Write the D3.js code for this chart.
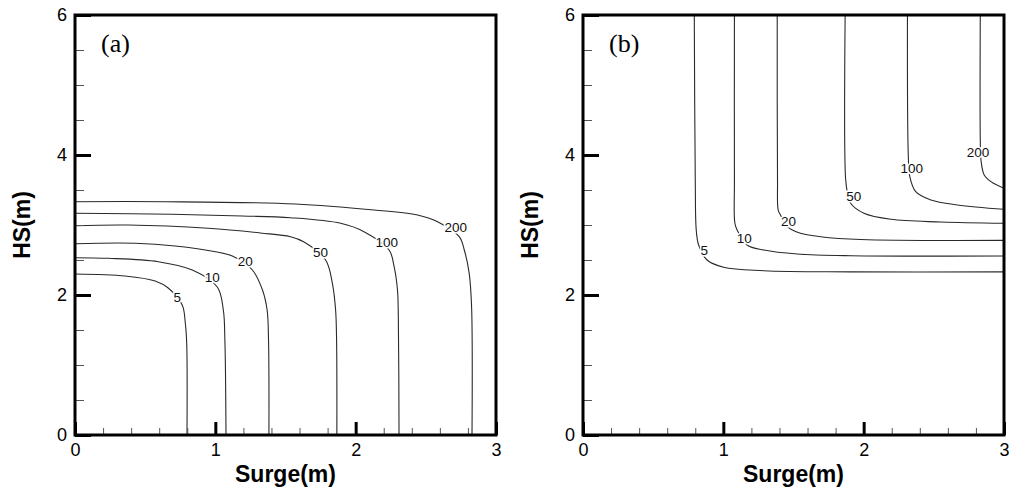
<!DOCTYPE html>
<html>
<head>
<meta charset="utf-8">
<script src="https://cdn.jsdelivr.net/npm/d3@7"></script>
<style>
body { margin: 0; background: #fff; }
text { font-family: Arial, "Liberation Sans", sans-serif; }
</style>
</head>
<body>
<div id="chart"></div>
<script>
var svgWidth = 1010;
var svgHeight = 494;

// contour levels (return period) and tick values
var levels = ["5", "10", "20", "50", "100", "200"];
var surgeTicks = [0, 1, 2, 3];
var hsTicks = [0, 2, 4, 6];
var surgeMinor = [0.2, 0.4, 0.6, 0.8, 1.2, 1.4, 1.6, 1.8, 2.2, 2.4, 2.6, 2.8];
var hsMinor = [0.5, 1, 1.5, 2.5, 3, 3.5, 4.5, 5, 5.5];

// panel (a) contours, [surge, HS]
var a5 = [[0, 2.30], [0.357, 2.271], [0.571, 2.20], [0.664, 2.10], [0.764, 1.857], [0.786, 1.60], [0.796, 1.314], [0.798, 0]];
var a10 = [[0, 2.533], [0.236, 2.524], [0.593, 2.476], [0.836, 2.357], [1.014, 2.114], [1.057, 1.786], [1.068, 1.357], [1.076, 0]];
var a20 = [[0, 2.733], [0.429, 2.739], [0.714, 2.70], [1.0, 2.619], [1.121, 2.557], [1.264, 2.357], [1.336, 2.071], [1.369, 1.786], [1.379, 1.357], [1.382, 0]];
var a50 = [[0, 2.99], [0.379, 3.0], [0.95, 2.953], [1.321, 2.886], [1.536, 2.833], [1.629, 2.761], [1.786, 2.50], [1.834, 2.167], [1.857, 1.786], [1.864, 1.357], [1.866, 0]];
var a100 = [[0, 3.167], [0.691, 3.153], [1.191, 3.129], [1.536, 3.104], [1.893, 3.024], [2.059, 2.904], [2.238, 2.643], [2.274, 2.404], [2.298, 2.071], [2.304, 1.69], [2.309, 0]];
var a200 = [[0, 3.333], [0.643, 3.333], [1.571, 3.30], [2.131, 3.214], [2.441, 3.143], [2.583, 3.047], [2.738, 2.833], [2.774, 2.643], [2.809, 2.31], [2.826, 1.833], [2.829, 0]];
var labelsA = [[0.729, 1.971], [0.979, 2.257], [1.214, 2.486], [1.75, 2.614], [2.221, 2.757], [2.714, 2.971]];

// panel (b) contours, [surge, HS]
var b5 = [[0.793, 6], [0.80, 3.643], [0.807, 2.929], [0.824, 2.714], [0.884, 2.50], [1.002, 2.396], [1.288, 2.347], [1.907, 2.33], [3.0, 2.33]];
var b10 = [[1.079, 6], [1.079, 3.643], [1.082, 3.029], [1.098, 2.929], [1.169, 2.714], [1.288, 2.643], [1.526, 2.586], [1.907, 2.561], [3.0, 2.557]];
var b20 = [[1.384, 6], [1.386, 3.643], [1.391, 3.214], [1.407, 3.143], [1.455, 2.976], [1.55, 2.881], [1.693, 2.833], [1.979, 2.793], [3.0, 2.781]];
var b50 = [[1.868, 6], [1.871, 3.667], [1.885, 3.45], [1.907, 3.31], [2.002, 3.167], [2.193, 3.081], [2.55, 3.043], [3.0, 3.024]];
var b100 = [[2.312, 6], [2.318, 4.0], [2.329, 3.69], [2.371, 3.476], [2.479, 3.357], [2.669, 3.286], [3.0, 3.224]];
var b200 = [[2.831, 6], [2.831, 4.214], [2.836, 3.929], [2.859, 3.714], [2.907, 3.619], [3.0, 3.524]];
var labelsB = [[0.864, 2.643], [1.15, 2.814], [1.464, 3.057], [1.929, 3.414], [2.343, 3.814], [2.814, 4.043]];

var plotW = 421;
var plotH = 420;

var svg = d3.select("#chart")
  .append("svg")
  .attr("width", svgWidth)
  .attr("height", svgHeight);

var xScale = d3.scaleLinear().domain([0, 3]).range([0, plotW]);
var yScale = d3.scaleLinear().domain([0, 6]).range([plotH, 0]);

var line = d3.line()
  .x(d => xScale(d[0]))
  .y(d => yScale(d[1]))
  .curve(d3.curveCatmullRom.alpha(0.5));

function drawPanel(left, top, tag, contours, labels) {
  var g = svg.append("g")
    .attr("transform", `translate(${left}, ${top})`);

  g.append("clipPath")
    .attr("id", "clip-" + tag)
    .append("rect")
    .attr("width", plotW)
    .attr("height", plotH);

  // contour lines
  g.append("g")
    .attr("clip-path", `url(#clip-${tag})`)
    .selectAll("path")
    .data(contours)
    .enter()
    .append("path")
    .attr("d", line)
    .attr("fill", "none")
    .attr("stroke", "#2a2a2a")
    .attr("stroke-width", 1.1);

  // contour labels with white halo so the line breaks
  g.append("g")
    .selectAll("text")
    .data(labels)
    .enter()
    .append("text")
    .attr("x", d => xScale(d[0]))
    .attr("y", d => yScale(d[1]))
    .attr("dy", "0.35em")
    .attr("text-anchor", "middle")
    .attr("font-size", "13.5px")
    .attr("fill", "#111")
    .attr("stroke", "#fff")
    .attr("stroke-width", 3)
    .attr("paint-order", "stroke")
    .text((d, i) => levels[i]);

  // minor ticks
  var xMinor = g.append("g")
    .attr("transform", `translate(0, ${plotH})`)
    .call(d3.axisBottom(xScale).tickValues(surgeMinor).tickSize(-7).tickFormat(""));
  var yMinor = g.append("g")
    .call(d3.axisLeft(yScale).tickValues(hsMinor).tickSize(-9).tickFormat(""));
  [xMinor, yMinor].forEach(function(a) {
    a.select(".domain").remove();
    a.selectAll("line").attr("stroke", "#555").attr("stroke-width", 1);
  });

  // major ticks
  var xAxis = g.append("g")
    .attr("transform", `translate(0, ${plotH})`)
    .call(d3.axisBottom(xScale).tickValues(surgeTicks).tickSize(-13).tickPadding(8).tickFormat(d3.format("d")));
  var yAxis = g.append("g")
    .call(d3.axisLeft(yScale).tickValues(hsTicks).tickSize(-16).tickPadding(8).tickFormat(d3.format("d")));
  [xAxis, yAxis].forEach(function(a) {
    a.select(".domain").remove();
    a.selectAll("line").attr("stroke", "#000").attr("stroke-width", 3);
    a.selectAll("text")
      .attr("font-size", "18px")
      .attr("fill", "#000")
      .style("font-family", "Arial, 'Liberation Sans', sans-serif");
  });

  // frame
  g.append("rect")
    .attr("width", plotW)
    .attr("height", plotH)
    .attr("fill", "none")
    .attr("stroke", "#000")
    .attr("stroke-width", 3);

  // axis titles
  g.append("text")
    .attr("x", plotW / 2)
    .attr("y", 467)
    .attr("text-anchor", "middle")
    .attr("font-size", "23px")
    .attr("font-weight", "bold")
    .text("Surge(m)");

  g.append("text")
    .attr("transform", `translate(-45, ${plotH / 2}) rotate(-90)`)
    .attr("text-anchor", "middle")
    .attr("font-size", "23px")
    .attr("font-weight", "bold")
    .text("HS(m)");

  // panel tag
  g.append("text")
    .attr("x", 26)
    .attr("y", 37)
    .attr("font-size", "26px")
    .style("font-family", "'Times New Roman', 'Liberation Serif', serif")
    .text("(" + tag + ")");
}

drawPanel(75, 15, "a", [a5, a10, a20, a50, a100, a200], labelsA);
drawPanel(583, 15, "b", [b5, b10, b20, b50, b100, b200], labelsB);
</script>
</body>
</html>
